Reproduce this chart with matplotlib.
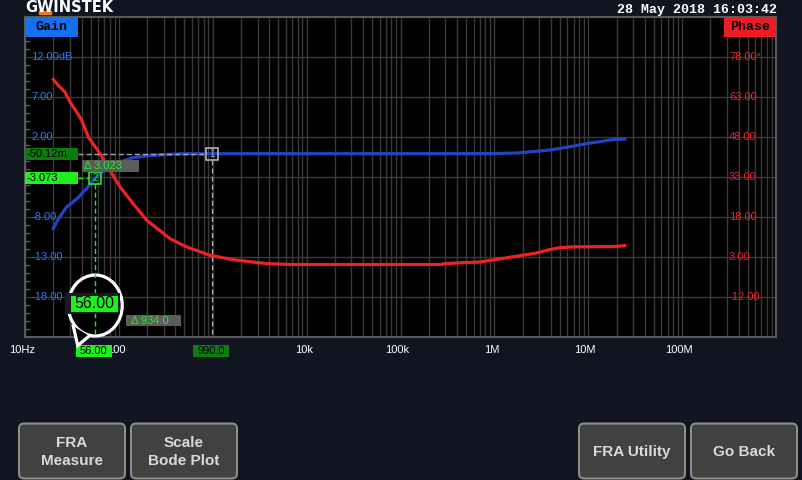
import matplotlib
matplotlib.use("Agg")
import matplotlib.pyplot as plt
from matplotlib.patches import Rectangle, FancyBboxPatch, Ellipse, Polygon
from matplotlib.ticker import LogLocator, NullFormatter, MultipleLocator
from matplotlib.transforms import offset_copy

# values
gain_freq = [20, 22.7, 27.8, 35.6, 45.4, 56, 74, 95, 142, 214, 448, 990, 3e3, 1e4, 1e5,
             1e6, 1.78e6, 2.84e6, 4.2e6, 6.85e6, 9.6e6, 13.3e6, 18.3e6, 24.5e6]
gain_db = [-9.4, -8.2, -6.7, -5.7, -4.4, -3.07, -1.9, -1.2, -0.55, -0.26, -0.06, -0.05, -0.05,
           -0.05, -0.05, -0.04, 0.05, 0.25, 0.46, 0.88, 1.21, 1.46, 1.71, 1.79]

phase_freq = [20, 22.6, 26.6, 30.2, 35.5, 40.2, 47.2, 63, 80.3, 103, 142, 198, 350, 527, 933,
              1640, 3185, 3870, 7150, 274e3, 288e3, 462e3, 701e3, 1.01e6, 1.72e6, 2.81e6,
              3.9e6, 4.99e6, 6.84e6, 18.3e6, 24.5e6]
phase_deg = [69.7, 67.5, 65.0, 61.2, 57.5, 54.4, 48.1, 41.9, 35.6, 29.4, 23.1, 16.9, 10.0, 6.9,
             3.75, 2.1, 0.9, 0.6, 0.3, 0.3, 0.6, 1.0, 1.2, 2.1, 3.4, 4.6, 5.9, 6.6, 6.9, 7.0, 7.4]

# labels hidden under the marker readouts on the screen are left blank
freq_ticks = [10, 100, 1e3, 1e4, 1e5, 1e6, 1e7, 1e8]
freq_labels = ["10Hz", "100", "", "10k", "100k", "1M", "10M", "100M"]
gain_ticks = [12, 7, 2, -3, -8, -13, -18]
gain_labels = ["12.00dB", "7.00", "2.00", "", "-8.00", "-13.00", "-18.00"]
phase_ticks = [78, 63, 48, 33, 18, 3, -12]
phase_labels = ["78.00°", "63.00", "48.00", "33.00", "18.00", "3.00", "-12.00"]

m1_freq, m1_gain = 990.0, -0.05012
m2_freq, m2_gain = 56.0, -3.073
m1_text, m2_text = "-50.12m", "-3.073"
m1_ftext, m2_ftext = "990.0", "56.00"
dgain_text, dfreq_text = "Δ 3.023", "Δ 934.0"

buttons = ["FRA\nMeasure", "Scale\nBode Plot", "FRA Utility", "Go Back"]
button_x = [19, 131, 579, 691]
stamp = "28 May 2018 16:03:42"

BG = "#111521"
GRID = "#3a3a3a"
BLUE = "#2143c6"
RED = "#ee2222"
GREEN = "#1ef01e"
DKGREEN = "#0a7d0a"
GRAYMK = "#a8a8a8"

plt.rcParams["font.family"] = ["Liberation Sans", "DejaVu Sans"]

W, H = 802, 480
fig = plt.figure(figsize=(W / 100, H / 100), dpi=100, facecolor=BG)

x0, x1, y0, y1 = 25, 776, 17.3, 337.3
ax = fig.add_axes([x0 / W, 1 - y1 / H, (x1 - x0) / W, (y1 - y0) / H], facecolor="black")
ax.set_xscale("log")
ax.set_xlim(10, 1e9)
ax.set_ylim(-23, 17)
ax.set_xticks(freq_ticks)
ax.xaxis.set_minor_locator(LogLocator(base=10, subs=range(2, 10), numticks=100))
ax.xaxis.set_minor_formatter(NullFormatter())
ax.set_yticks(gain_ticks)
ax.yaxis.set_minor_locator(MultipleLocator(1))
ax.grid(True, which="both", axis="x", color=GRID, lw=1)
ax.grid(True, which="major", axis="y", color=GRID, lw=1)
ax.tick_params(axis="x", which="both", length=0, labelbottom=False)
ax.tick_params(axis="y", which="major", length=0, labelleft=False)
ax.tick_params(axis="y", which="minor", direction="in", length=3.5, width=1,
               color="#5a5a5a", left=True, right=True)
for s in ax.spines.values():
    s.set_color("#5a5a5a")
    s.set_linewidth(1.5)

xlab_tr = offset_copy(ax.get_xaxis_transform(), fig=fig, x=-3, y=0, units="dots")
for f, lab in zip(freq_ticks, freq_labels):
    ax.text(f, -0.041, lab, transform=xlab_tr, color="white", fontsize=8,
            ha="center", va="center", clip_on=False)

ax.plot(gain_freq, gain_db, color=BLUE, lw=2.3, zorder=3)
for v, lab in zip(gain_ticks, gain_labels):
    ax.text(0.008, v, lab, transform=ax.get_yaxis_transform(), color="#2a78ee",
            fontsize=8, va="center", ha="left")

ax2 = ax.twinx()
ax2.set_ylim(-27, 93)
ax2.set_yticks([])
for s in ax2.spines.values():
    s.set_visible(False)
ax2.plot(phase_freq, phase_deg, color=RED, lw=2.3, zorder=3)
for v, lab in zip(phase_ticks, phase_labels):
    ax2.text(0.9374, v, lab, transform=ax2.get_yaxis_transform(), color="#e82424",
             fontsize=8, va="center", ha="left")

# overlay in screen pixels
ov = fig.add_axes([0, 0, 1, 1], zorder=10)
ov.set_xlim(0, W)
ov.set_ylim(H, 0)
ov.axis("off")


def px(axis, x, y):
    dx, dy = axis.transData.transform((x, y))
    return dx, H - dy


m1x, m1y = px(ax, m1_freq, m1_gain)
m2x, m2y = px(ax, m2_freq, m2_gain)
ybot = px(ax, 10, -23)[1]

# header
ov.text(25, 8, "GWINSTEK", color="white", fontsize=10.5, fontweight="bold",
        family="DejaVu Sans", ha="left", va="center")
ov.add_patch(Rectangle((39, 11), 12, 2.5, color="#e8801a"))
ov.text(777, 9.5, stamp, color="white", fontsize=9.5, fontweight="bold",
        family="Liberation Mono", ha="right", va="center")
ov.add_patch(Rectangle((25, 17), 53, 20, fc="#1570f0"))
ov.text(51.5, 27.5, "Gain", color="black", fontsize=9.5, fontweight="bold",
        family="Liberation Mono", ha="center", va="center")
ov.add_patch(Rectangle((724, 17), 52, 20, fc="#f01c24"))
ov.text(750, 27.5, "Phase", color="black", fontsize=9.5, fontweight="bold",
        family="Liberation Mono", ha="center", va="center")

dash = (3.6, 2.2)
# marker 1
ov.plot([78, m1x - 6], [m1y, m1y], color=GRAYMK, lw=1, dashes=dash)
ov.plot([m1x, m1x], [m1y + 6, ybot], color=GRAYMK, lw=1, dashes=dash)
ov.add_patch(Rectangle((m1x - 6, m1y - 6), 12, 12, fill=False, ec="#b4b4b4", lw=1.2))
ov.text(m1x, m1y, "1", color="#b4b4b4", fontsize=7, ha="center", va="center")
ov.add_patch(Rectangle((25, m1y - 6), 53, 12, fc=DKGREEN))
ov.text(26.5, m1y, m1_text, color="black", fontsize=8, ha="left", va="center")

# marker 2
ov.plot([78, m2x - 6], [m2y, m2y], color=GREEN, lw=1, dashes=dash)
ov.plot([m2x, m2x], [m2y + 6, ybot], color=GREEN, lw=1, dashes=dash, zorder=3)
ov.add_patch(Rectangle((m2x - 6, m2y - 6), 12, 12, fill=False, ec=GREEN, lw=1.2))
ov.text(m2x, m2y, "2", color=GREEN, fontsize=7, ha="center", va="center")
ov.add_patch(Rectangle((25, m2y - 6.2), 53, 12.4, fc=GREEN))
ov.text(26.5, m2y, m2_text, color="black", fontsize=8, ha="left", va="center")

ymid = (m1y + m2y) / 2
ov.add_patch(Rectangle((82, ymid - 6.2), 57, 12.4, fc="#5c5c5c"))
ov.text(83.5, ymid, dgain_text, color=GREEN, fontsize=8, ha="left", va="center")

xmid = (m1x + m2x) / 2
ov.add_patch(Rectangle((xmid - 27.5, 315), 55, 11, fc="#5c5c5c"))
ov.text(xmid - 23, 320.5, dfreq_text, color=GREEN, fontsize=8, ha="left", va="center")

# frequency readouts under the axis
ov.add_patch(Rectangle((m2x - 19.5, 345), 36, 11.5, fc=GREEN))
ov.text(m2x - 1.5, 350.7, m2_ftext, color="black", fontsize=8, ha="center", va="center")
ov.add_patch(Rectangle((m1x - 19.5, 345), 36, 11.5, fc=DKGREEN))
ov.text(m1x - 1.5, 350.7, m1_ftext, color="black", fontsize=8, ha="center", va="center")

# callout bubble
ov.add_patch(Ellipse((m2x, 305.5), 54, 61, fc="black", ec="white", lw=2.3, zorder=2))
tail = [(m2x - 22, 326), (m2x - 17.5, 345.5), (m2x - 6, 336)]
ov.add_patch(Polygon(tail, closed=True, fc="black", ec="none", zorder=2.1))
ov.plot([p[0] for p in tail], [p[1] for p in tail], color="white", lw=2.3,
        solid_joinstyle="miter", zorder=2.2)
ov.add_patch(Rectangle((m2x - 30.5, 293), 55, 21, fc="#161a24", zorder=4))
ov.add_patch(Rectangle((m2x - 24, 295.5), 46.5, 16.5, fc=GREEN, zorder=5))
ov.text(m2x - 0.8, 304, m2_ftext, color="black", fontsize=11.5, ha="center",
        va="center", zorder=6)

# soft buttons
for bx, lab in zip(button_x, buttons):
    ov.add_patch(FancyBboxPatch((bx, 423.5), 106, 55, boxstyle="round,pad=0,rounding_size=5",
                                fc="#414141", ec="#8c8c8c", lw=1.5))
    ov.text(bx + 53, 452, lab, color="#d9d9d9", fontsize=11, fontweight="bold",
            ha="center", va="center", multialignment="center", linespacing=1.45)

fig.savefig("out.png", dpi=100, facecolor=BG)
